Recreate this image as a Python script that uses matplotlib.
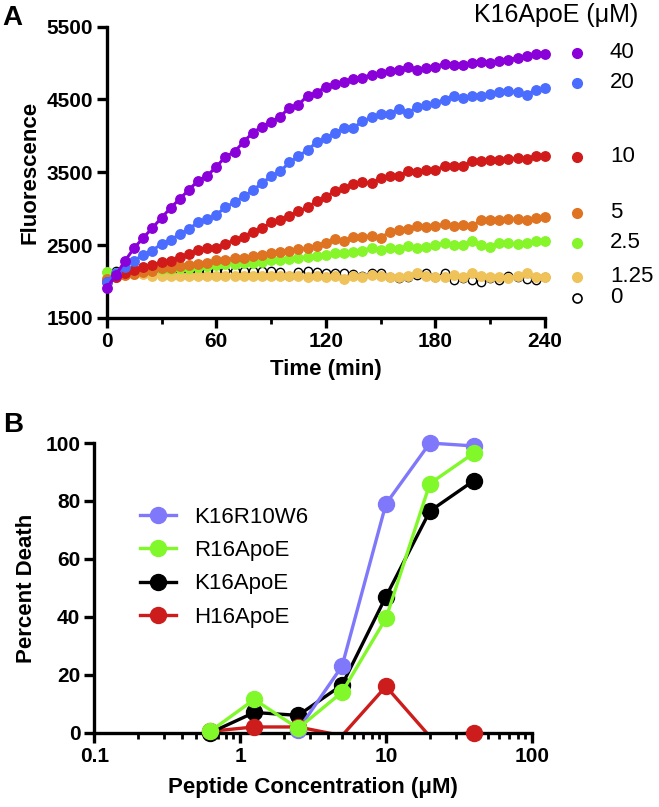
import numpy as np
import matplotlib
matplotlib.use('Agg')
import matplotlib.pyplot as plt
from matplotlib.ticker import LogLocator, NullFormatter, FixedLocator
from matplotlib.lines import Line2D

plt.rcParams['font.family'] = ['Liberation Sans', 'DejaVu Sans']

# ---- Panel A data: fluorescence vs time, K16ApoE (uM)
time_min = list(range(0, 245, 5))

conc_labels = ['40', '20', '10', '5', '2.5', '1.25', '0']

f40 = [1912, 2090, 2284, 2462, 2600, 2737, 2875, 3012, 3136, 3260, 3384, 3452, 3576,
       3714, 3782, 3920, 4044, 4126, 4195, 4264, 4388, 4429, 4552, 4594, 4676,
       4717, 4745, 4786, 4800, 4841, 4869, 4896, 4910, 4951, 4910, 4937, 4951, 4992,
       4978, 4978, 5006, 5020, 5006, 5033, 5047, 5075, 5102, 5130, 5130]
f20 = [2000, 2115, 2206, 2288, 2366, 2426, 2518, 2572, 2650, 2723, 2811, 2857, 2916,
       3022, 3086, 3168, 3251, 3352, 3443, 3512, 3636, 3718, 3810, 3911, 3970,
       4039, 4108, 4108, 4200, 4255, 4300, 4305, 4369, 4314, 4397, 4429, 4452, 4498,
       4552, 4520, 4543, 4543, 4580, 4598, 4621, 4598, 4566, 4635, 4658]
f10 = [1990, 2068, 2114, 2160, 2206, 2229, 2266, 2288, 2334, 2380, 2435, 2458, 2458,
       2518, 2572, 2618, 2687, 2733, 2811, 2848, 2903, 2962, 3022, 3100, 3165,
       3238, 3283, 3343, 3366, 3352, 3421, 3453, 3453, 3512, 3498, 3535, 3535, 3581,
       3581, 3590, 3650, 3650, 3672, 3663, 3682, 3696, 3682, 3728, 3718]
f5 = [2030, 2060, 2090, 2110, 2130, 2150, 2180, 2190, 2210, 2230, 2240, 2260, 2290,
      2300, 2320, 2330, 2350, 2370, 2390, 2410, 2420, 2440, 2460, 2490, 2535,
      2582, 2563, 2609, 2618, 2627, 2595, 2687, 2710, 2719, 2756, 2746, 2756, 2792,
      2765, 2779, 2756, 2848, 2848, 2848, 2857, 2857, 2848, 2871, 2880]
f2_5 = [2130, 2120, 2130, 2140, 2150, 2160, 2170, 2175, 2180, 2190, 2200, 2210, 2230,
        2235, 2240, 2250, 2260, 2270, 2290, 2300, 2310, 2330, 2340, 2350, 2368,
        2389, 2389, 2412, 2426, 2467, 2435, 2458, 2444, 2490, 2458, 2472, 2504, 2536,
        2504, 2504, 2554, 2504, 2481, 2527, 2527, 2518, 2527, 2554, 2554]
f1_25 = [2050, 2080, 2100, 2110, 2100, 2080, 2070, 2080, 2070, 2080, 2070, 2080, 2070,
         2080, 2070, 2080, 2070, 2080, 2070, 2080, 2070, 2080, 2060, 2070, 2068,
         2073, 2032, 2073, 2068, 2091, 2073, 2059, 2059, 2073, 2114, 2073, 2068, 2068,
         2091, 2068, 2124, 2073, 2068, 2059, 2050, 2073, 2124, 2068, 2068]
f0 = [2130, 2140, 2150, 2150, 2140, 2150, 2140, 2150, 2140, 2150, 2140, 2150, 2140,
      2150, 2140, 2150, 2140, 2150, 2140, 2130, 2080, 2130, 2140, 2130, 2120,
      2114, 2124, 2105, 2073, 2114, 2114, 2059, 2050, 2068, 2091, 2114, 2068, 2114,
      2022, 2050, 2022, 2000, 2050, 2022, 2073, 2068, 2032, 2022, 2068]

series_a = [f40, f20, f10, f5, f2_5, f1_25, f0]
colors_a = ['#8A00D8', '#4A6CFF', '#D11A1A', '#DE7322', '#86F52A', '#EFC35A', 'black']
label_ypos = [0.911, 0.808, 0.553, 0.361, 0.258, 0.141, 0.069]

# ---- Panel B data: percent death vs peptide concentration
peptides = ['K16R10W6', 'R16ApoE', 'K16ApoE', 'H16ApoE']
conc_b = [0.625, 1.25, 2.5, 5, 10, 20, 40]
conc_k16r10w6 = [2.5, 5, 10, 20, 40]
death_k16r10w6 = [1, 23, 79, 100, 99]
death_r16apoe = [0.5, 11.5, 1.5, 14, 39.5, 86, 96.5]
death_k16apoe = [0, 7, 6, 16.5, 47, 76.5, 87]
death_h16apoe = [0.5, 2, 2, -1, 16, -1.3, 0]
colors_b = {'K16R10W6': '#8078FA', 'R16ApoE': '#80F82A', 'K16ApoE': 'black', 'H16ApoE': '#CC1C1C'}

fig = plt.figure(figsize=(6.59, 8.07), dpi=100)

# ================= Panel A
ax1 = fig.add_axes([0.162, 0.606, 0.665, 0.361])
for ys, c in list(zip(series_a, colors_a))[::-1]:
    if c == 'black':
        ax1.plot(time_min, ys, color='black', lw=1.2, marker='o', ms=6,
                 mfc='white', mec='black', mew=1.0, clip_on=False, zorder=2)
    else:
        ax1.plot(time_min, ys, color=c, lw=2.2, marker='o', ms=6.8,
                 mec=c, clip_on=False, zorder=3)

ax1.set_xlim(0, 240)
ax1.set_ylim(1500, 5500)
ax1.set_xticks([0, 60, 120, 180, 240])
ax1.xaxis.set_minor_locator(FixedLocator([30, 90, 150, 210]))
ax1.set_yticks([1500, 2500, 3500, 4500, 5500])
ax1.set_xlabel('Time (min)', fontsize=16, fontweight='bold', labelpad=6)
ax1.set_ylabel('Fluorescence', fontsize=16, fontweight='bold', labelpad=4)

# legend drawn beside the curve ends
ax1.text(1.025, 1.041, 'K16ApoE (\u03bcM)', transform=ax1.transAxes, fontsize=18,
         ha='center', va='center')
for lab, c, yp in zip(conc_labels, colors_a, label_ypos):
    if c == 'black':
        ax1.plot([1.073], [yp], 'o', ms=6.5, mfc='white', mec='black', mew=1.2,
                 transform=ax1.transAxes, clip_on=False)
    else:
        ax1.plot([1.073], [yp], 'o', ms=7, color=c, transform=ax1.transAxes, clip_on=False)
    ax1.text(1.148, yp, lab, transform=ax1.transAxes, fontsize=16, ha='left', va='center')

# ================= Panel B
ax2 = fig.add_axes([0.143, 0.092, 0.664, 0.359])
mk = dict(marker='o', ms=11.5, lw=2.4)

ax2.plot(conc_b, death_k16apoe, color=colors_b['K16ApoE'], zorder=3, clip_on=False, **mk)
ax2.plot(conc_k16r10w6, death_k16r10w6, color=colors_b['K16R10W6'], zorder=4, clip_on=False, **mk)
# H16ApoE: line clipped at zero, markers only for points inside the axis range
ax2.plot(conc_b, death_h16apoe, color=colors_b['H16ApoE'], lw=2.4, zorder=2)
h_x = [x for x, y in zip(conc_b, death_h16apoe) if y >= 0]
h_y = [y for y in death_h16apoe if y >= 0]
ax2.plot(h_x, h_y, 'o', ms=11.5, color=colors_b['H16ApoE'], clip_on=False, zorder=5)
ax2.plot(conc_b, death_r16apoe, color=colors_b['R16ApoE'], zorder=6, clip_on=False, **mk)

ax2.set_xscale('log')
ax2.set_xlim(0.1, 100)
ax2.set_ylim(0, 100)
ax2.set_xticks([0.1, 1, 10, 100])
ax2.set_xticklabels(['0.1', '1', '10', '100'])
ax2.xaxis.set_minor_locator(LogLocator(base=10, subs=np.arange(2, 10)))
ax2.xaxis.set_minor_formatter(NullFormatter())
ax2.set_yticks([0, 20, 40, 60, 80, 100])
ax2.set_xlabel('Peptide Concentration (\u03bcM)', fontsize=16, fontweight='bold', labelpad=8)
ax2.set_ylabel('Percent Death', fontsize=16, fontweight='bold', labelpad=6)

handles = [Line2D([], [], color=colors_b[p], marker='o', ms=11.5, lw=2.4) for p in peptides]
ax2.legend(handles, peptides, loc='upper left', bbox_to_anchor=(0.085, 0.81), frameon=False,
           fontsize=16, handlelength=1.6, handletextpad=0.8, labelspacing=0.55,
           borderaxespad=0)

for ax in (ax1, ax2):
    ax.spines['top'].set_visible(False)
    ax.spines['right'].set_visible(False)
    ax.spines['left'].set_linewidth(2.4)
    ax.spines['bottom'].set_linewidth(2.4)
    ax.tick_params(which='major', length=7, width=2.4, labelsize=15, pad=3)
    ax.tick_params(which='minor', length=4.5, width=2.0)
    for t in ax.get_xticklabels() + ax.get_yticklabels():
        t.set_fontweight('bold')

fig.text(0.004, 0.978, 'A', fontsize=20, fontweight='bold', va='center', ha='left')
fig.text(0.004, 0.473, 'B', fontsize=20, fontweight='bold', va='center', ha='left')

fig.savefig('out.png', dpi=100)
